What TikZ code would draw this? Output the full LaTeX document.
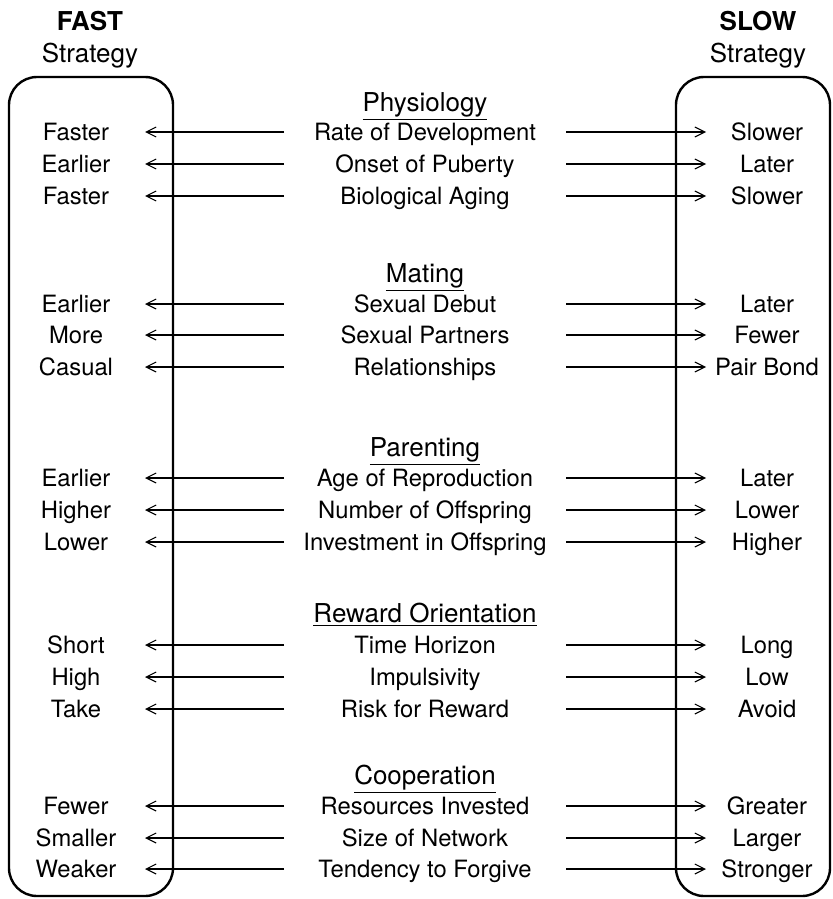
\documentclass[tikz,border=0pt]{standalone}
\usepackage{fontspec}
\setmainfont{TeX Gyre Heros}
\usetikzlibrary{arrows.meta}

\begin{document}
\begin{tikzpicture}[x=0.5pt,y=-0.5pt,
    txt/.style={inner sep=0pt,text height=8.5pt,text depth=0pt,font=\fontsize{11.9}{14}\selectfont},
    kopf/.style={inner sep=0pt,text height=9.3pt,text depth=0pt,font=\fontsize{13}{15}\selectfont},
    pfeil/.style={-{Straight Barb[length=5pt,width=5pt]},line width=0.55pt},
    kasten/.style={line width=1.2pt,rounded corners=14pt}]
    \useasboundingbox (0,0) rectangle (832,899);
    % Kaesten:
    \draw[kasten] (9,77) rectangle (173,896); % links
    \draw[kasten] (676,77) rectangle (830,896); % rechts
    % Ueberschriften:
    \node[kopf,font=\fontsize{13}{15}\selectfont\bfseries] (fast) at (90,21) {FAST};
    \node[kopf] (fastS) at (90,53) {Strategy};
    \node[kopf,font=\fontsize{13}{15}\selectfont\bfseries] (slow) at (758,21) {SLOW};
    \node[kopf] (slowS) at (758,53) {Strategy};
    % Bereiche:
    \node[kopf] (physio) at (425,102) {\underline{Physiology}};
    \node[kopf] (mating) at (425,273) {\underline{Mating}};
    \node[kopf] (parent) at (425,447) {\underline{Parenting}};
    \node[kopf] (reward) at (425,613) {\underline{Reward Orientation}};
    \node[kopf] (coop) at (425,775) {\underline{Cooperation}};
    % Pfeilenden:
    \coordinate (xl) at (284,0);
    \coordinate (tl) at (145,0);
    \coordinate (xr) at (566,0);
    \coordinate (tr) at (706,0);
    \foreach \y/\l/\m/\r [count=\i] in {
        132/Faster/Rate of Development/Slower,
        164/Earlier/Onset of Puberty/Later,
        196/Faster/Biological Aging/Slower,
        304/Earlier/Sexual Debut/Later,
        335/More/Sexual Partners/Fewer,
        367/Casual/Relationships/Pair Bond,
        478/Earlier/Age of Reproduction/Later,
        510/Higher/Number of Offspring/Lower,
        542/Lower/Investment in Offspring/Higher,
        645/Short/Time Horizon/Long,
        677/High/Impulsivity/Low,
        709/Take/Risk for Reward/Avoid,
        806/Fewer/Resources Invested/Greater,
        838/Smaller/Size of Network/Larger,
        869/Weaker/Tendency to Forgive/Stronger} {
        \node[txt] (L\i) at (76,\y) {\l};
        \node[txt] (M\i) at (425,\y) {\m};
        \node[txt] (R\i) at (767,\y) {\r};
        \draw[pfeil] (M\i.center -| xl) -- (L\i.center -| tl); % nach links
        \draw[pfeil] (M\i.center -| xr) -- (R\i.center -| tr); % nach rechts
    }
\end{tikzpicture}
\end{document}
